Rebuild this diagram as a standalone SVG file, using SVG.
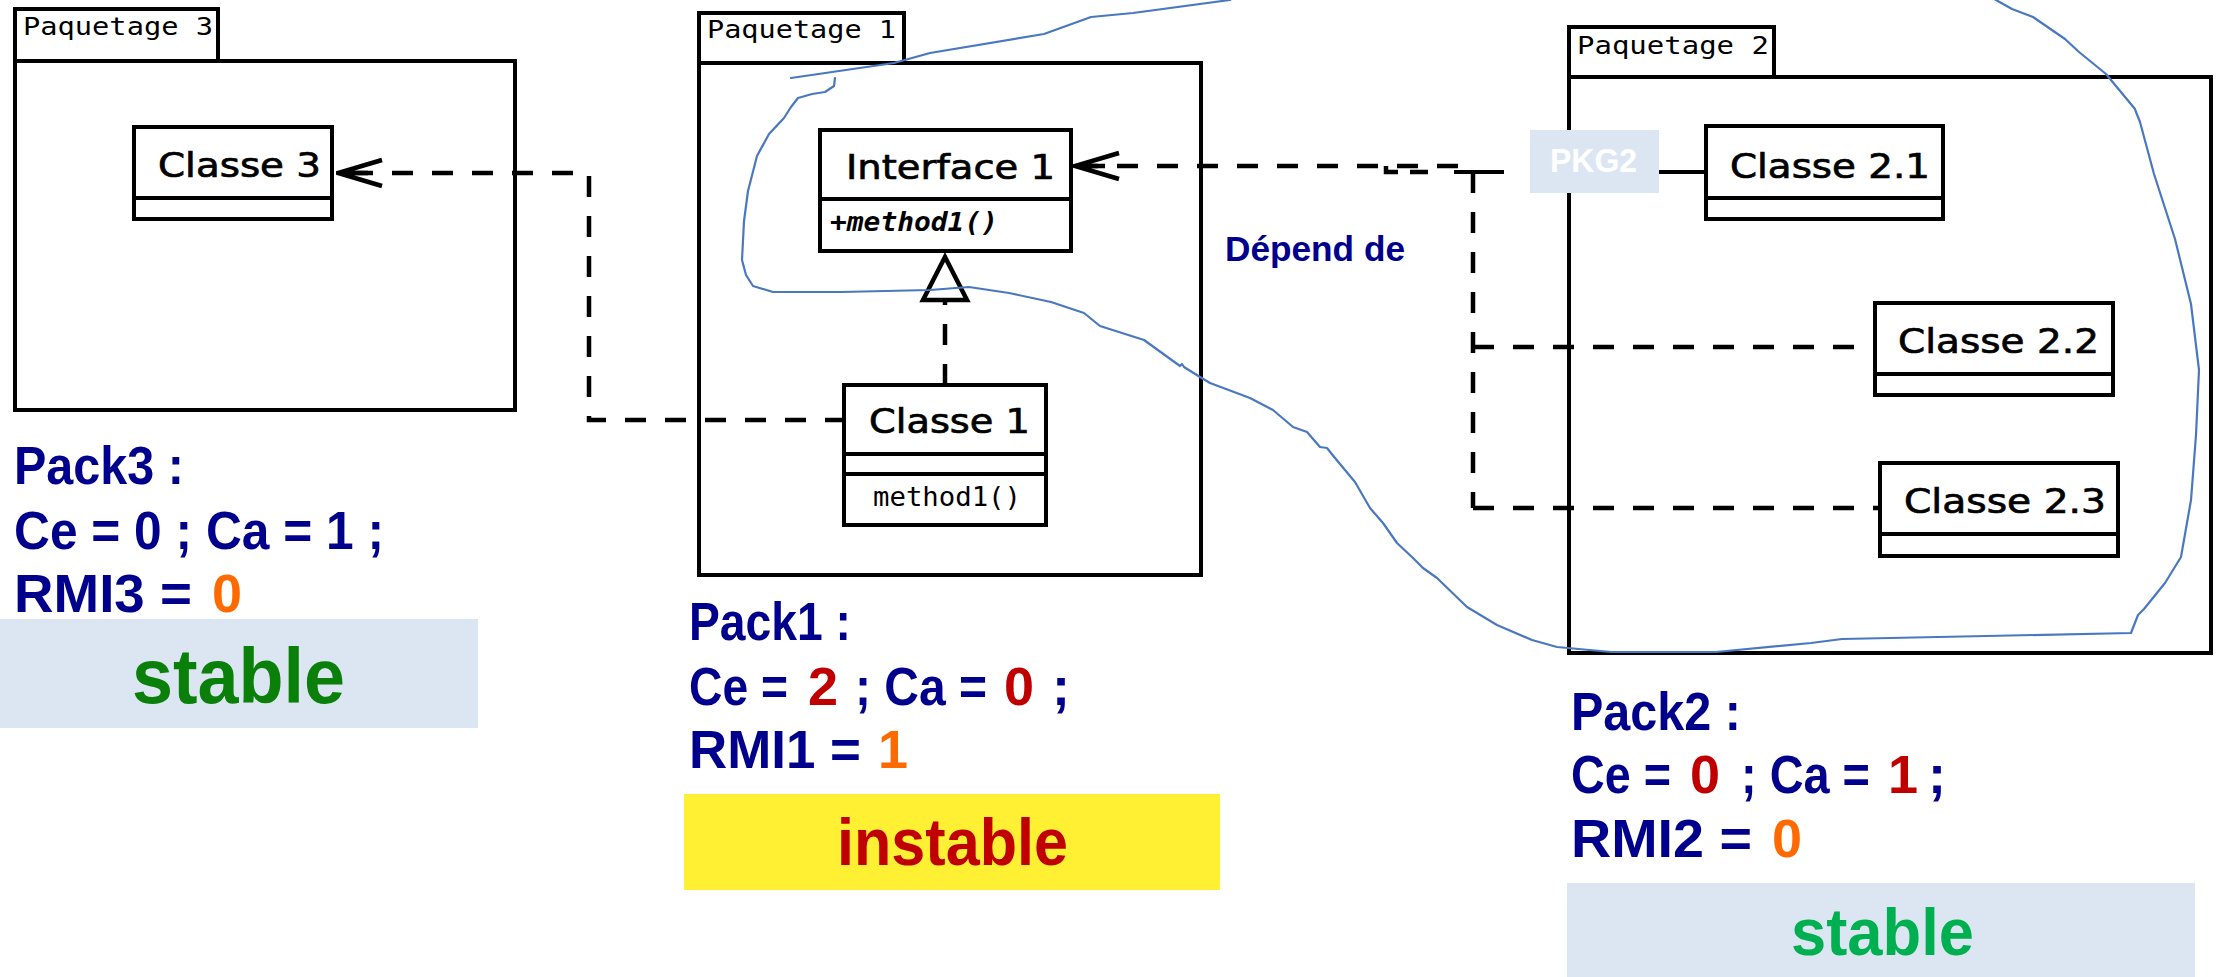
<svg xmlns="http://www.w3.org/2000/svg" width="2223" height="977" viewBox="0 0 2223 977">
  <style>
    .pkg { fill: #ffffff; stroke: #000000; stroke-width: 4; }
    .cls { fill: #ffffff; stroke: #000000; stroke-width: 4; }
    .div { stroke: #000000; stroke-width: 4; }
    .pname { font-family: "DejaVu Sans Mono", "Liberation Mono", monospace; font-size: 25px; fill: #000000; }
    .cname { font-family: "DejaVu Sans", "Liberation Sans", sans-serif; font-size: 34px; fill: #000000; stroke: #000000; stroke-width: 0.7; }
    .meth { font-family: "DejaVu Sans Mono", "Liberation Mono", monospace; font-size: 26px; fill: #000000; }
    .imeth { font-family: "DejaVu Sans Mono", "Liberation Mono", monospace; font-size: 26px; font-weight: bold; font-style: italic; fill: #000000; }
    .dash { fill: none; stroke: #000000; stroke-width: 4.5; stroke-dasharray: 21 19; }
    .solid { fill: none; stroke: #000000; stroke-width: 4; }
    .note { font-family: "Liberation Sans", Arial, sans-serif; font-weight: bold; font-size: 54px; fill: #00008c; }
    .red { fill: #c00000; }
    .orange { fill: #ff6a00; }
    .verdict { font-family: "Liberation Sans", Arial, sans-serif; font-weight: bold; }
    .box { fill: #dce6f2; }
  </style>
  <defs>
    <marker id="open" markerUnits="userSpaceOnUse" markerWidth="52" markerHeight="36" viewBox="-50 -18 52 36" refX="0" refY="0" orient="auto">
      <path d="M-44,-13 L0,0 L-44,13 M0,0 L-30,0" fill="none" stroke="#000000" stroke-width="4.5" stroke-linejoin="miter"/>
    </marker>
  </defs>

  <rect width="2223" height="977" fill="#ffffff"/>

  <!-- Package 3 -->
  <g id="paquetage3">
    <rect class="pkg" x="15" y="9" width="203" height="52"/>
    <rect class="pkg" x="15" y="61" width="500" height="349"/>
    <text class="pname" x="23" y="35" textLength="190" lengthAdjust="spacingAndGlyphs">Paquetage 3</text>
  </g>
  <g id="classe3">
    <rect class="cls" x="134" y="127" width="198" height="92"/>
    <line class="div" x1="134" y1="198" x2="332" y2="198"/>
    <text class="cname" x="158" y="177" textLength="163" lengthAdjust="spacingAndGlyphs">Classe 3</text>
  </g>

  <!-- Package 1 -->
  <g id="paquetage1">
    <rect class="pkg" x="699" y="13" width="205" height="50"/>
    <rect class="pkg" x="699" y="63" width="502" height="512"/>
    <text class="pname" x="707" y="38" textLength="189" lengthAdjust="spacingAndGlyphs">Paquetage 1</text>
  </g>
  <g id="interface1">
    <rect class="cls" x="820" y="130" width="251" height="121"/>
    <line class="div" x1="820" y1="199" x2="1071" y2="199"/>
    <text class="cname" x="846" y="179" textLength="209" lengthAdjust="spacingAndGlyphs">Interface 1</text>
    <text class="imeth" x="830" y="231" textLength="168" lengthAdjust="spacingAndGlyphs">+method1()</text>
  </g>
  <g id="classe1">
    <rect class="cls" x="844" y="385" width="202" height="140"/>
    <line class="div" x1="844" y1="454" x2="1046" y2="454"/>
    <line class="div" x1="844" y1="474" x2="1046" y2="474"/>
    <text class="cname" x="869" y="433" textLength="161" lengthAdjust="spacingAndGlyphs">Classe 1</text>
    <text class="meth" x="873" y="506" textLength="148" lengthAdjust="spacingAndGlyphs">method1()</text>
  </g>

  <!-- Package 2 -->
  <g id="paquetage2">
    <rect class="pkg" x="1569" y="27" width="205" height="50"/>
    <rect class="pkg" x="1569" y="77" width="642" height="576"/>
    <text class="pname" x="1577" y="54" textLength="192" lengthAdjust="spacingAndGlyphs">Paquetage 2</text>
  </g>
  <g id="classe21">
    <rect class="cls" x="1706" y="126" width="237" height="93"/>
    <line class="div" x1="1706" y1="198" x2="1943" y2="198"/>
    <text class="cname" x="1730" y="178" textLength="200" lengthAdjust="spacingAndGlyphs">Classe 2.1</text>
  </g>
  <g id="classe22">
    <rect class="cls" x="1875" y="303" width="238" height="92"/>
    <line class="div" x1="1875" y1="374" x2="2113" y2="374"/>
    <text class="cname" x="1898" y="353" textLength="201" lengthAdjust="spacingAndGlyphs">Classe 2.2</text>
  </g>
  <g id="classe23">
    <rect class="cls" x="1880" y="463" width="238" height="93"/>
    <line class="div" x1="1880" y1="534" x2="2118" y2="534"/>
    <text class="cname" x="1904" y="513" textLength="202" lengthAdjust="spacingAndGlyphs">Classe 2.3</text>
  </g>

  <!-- Dependencies and realization -->
  <g id="connecteurs">
    <path class="dash" d="M846,420 H589 V173 H338" marker-end="url(#open)"/>
    <path class="dash" d="M945,385 V300"/>
    <polygon points="945,257 923,300 967,300" fill="#ffffff" stroke="#000000" stroke-width="4.5" stroke-linejoin="miter"/>
    <path class="dash" d="M1458,166 H1075" marker-end="url(#open)"/>
    <path class="dash" d="M1386,166 V172 H1440" style="stroke-dasharray: 18 12"/>
    <path class="solid" d="M1454,172 H1504"/>
    <path class="dash" d="M1473,172 V508"/>
    <path class="dash" d="M1473,347 H1875"/>
    <path class="dash" d="M1473,508 H1880"/>
    <path class="solid" d="M1659,172 H1706"/>
  </g>

  <!-- Label over the package 2 border -->
  <g id="pkg2-label">
    <rect class="box" x="1530" y="130" width="129" height="63"/>
    <text x="1550" y="172" font-family="Liberation Sans, Arial, sans-serif" font-weight="bold" font-size="34" fill="#ffffff" textLength="87" lengthAdjust="spacingAndGlyphs">PKG2</text>
  </g>

  <text id="depend" x="1225" y="261" font-family="Liberation Sans, Arial, sans-serif" font-weight="bold" font-size="35" fill="#00008c" textLength="180" lengthAdjust="spacingAndGlyphs">Dépend de</text>

  <!-- Metrics for package 3 -->
  <g id="metriques3">
    <text class="note" x="14" y="484" textLength="170" lengthAdjust="spacingAndGlyphs">Pack3 :</text>
    <text class="note" x="14" y="549" textLength="370" lengthAdjust="spacingAndGlyphs">Ce = 0 ; Ca = 1 ;</text>
    <text class="note" x="14" y="612" textLength="178" lengthAdjust="spacingAndGlyphs">RMI3 =</text>
    <text class="note orange" x="212" y="612">0</text>
    <rect class="box" x="0" y="619" width="478" height="109"/>
    <text class="verdict" x="132" y="703" font-size="78" fill="#0a800a" textLength="213" lengthAdjust="spacingAndGlyphs">stable</text>
  </g>

  <!-- Metrics for package 1 -->
  <g id="metriques1">
    <text class="note" x="689" y="640" textLength="162" lengthAdjust="spacingAndGlyphs">Pack1 :</text>
    <text class="note" x="689" y="705" textLength="99" lengthAdjust="spacingAndGlyphs">Ce =</text>
    <text class="note red" x="808" y="705">2</text>
    <text class="note" x="855" y="705" textLength="132" lengthAdjust="spacingAndGlyphs">; Ca =</text>
    <text class="note red" x="1004" y="705">0</text>
    <text class="note" x="1052" y="705">;</text>
    <text class="note" x="689" y="768" textLength="172" lengthAdjust="spacingAndGlyphs">RMI1 =</text>
    <text class="note orange" x="878" y="768">1</text>
    <rect x="684" y="794" width="536" height="96" fill="#fff033"/>
    <text class="verdict" x="837" y="865" font-size="66" fill="#c00000" textLength="231" lengthAdjust="spacingAndGlyphs">instable</text>
  </g>

  <!-- Metrics for package 2 -->
  <g id="metriques2">
    <text class="note" x="1571" y="730" textLength="170" lengthAdjust="spacingAndGlyphs">Pack2 :</text>
    <text class="note" x="1571" y="793" textLength="100" lengthAdjust="spacingAndGlyphs">Ce =</text>
    <text class="note red" x="1690" y="793">0</text>
    <text class="note" x="1741" y="793" textLength="129" lengthAdjust="spacingAndGlyphs">; Ca =</text>
    <text class="note red" x="1888" y="793">1</text>
    <text class="note" x="1928" y="793">;</text>
    <text class="note" x="1571" y="857" textLength="181" lengthAdjust="spacingAndGlyphs">RMI2 =</text>
    <text class="note orange" x="1772" y="857">0</text>
    <rect class="box" x="1567" y="883" width="628" height="94"/>
    <text class="verdict" x="1791" y="955" font-size="66" fill="#00b050" textLength="183" lengthAdjust="spacingAndGlyphs">stable</text>
  </g>

  <!-- Freehand outline around package 2 and the interface -->
  <path id="contour" fill="none" stroke="#4a78c0" stroke-width="2.2" stroke-linejoin="round" stroke-linecap="round"
    d="M835,78 L834,86 L825,92 L812,94 L798,98 L791,107 L784,118 L769,134 L757,156 L748,191 L744,221 L742,260 L746,275 L753,286 L773,292 L841,292 L930,290 L969,287 L1009,293 L1051,302 L1084,313 L1100,326 L1144,340 L1180,366 L1182,364 L1184,367 L1200,377 L1210,383 L1250,398 L1273,410 L1293,427 L1307,432 L1320,447 L1327,448 L1335,458 L1355,482 L1370,508 L1383,523 L1397,543 L1413,558 L1423,568 L1437,578 L1467,607 L1497,625 L1532,640 L1557,647 L1611,652 L1716,652 L1811,643 L1842,639 L2131,633 L2138,615 L2144,609 L2165,583 L2181,557 L2191,500 L2196,435 L2199,370 L2191,304 L2175,239 L2154,174 L2140,122 L2136,112 L2135,109 L2106,74 L2079,52 L2065,39 L2033,17 L2012,9 L1996,0 L1980,-12 L1240,-12 L1230,0 L1133,13 L1091,17 L1044,34 L930,53 L894,63 L791,78"/>
</svg>
